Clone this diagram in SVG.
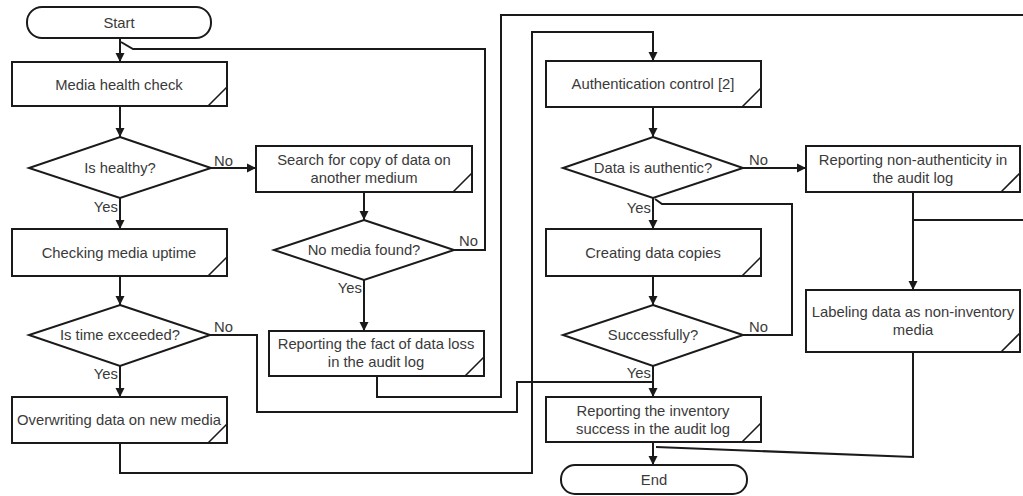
<svg xmlns="http://www.w3.org/2000/svg" width="1023" height="496" viewBox="0 0 1023 496">
<defs>
<marker id="arr" viewBox="0 0 10 10" refX="10" refY="5" markerWidth="9" markerHeight="10" markerUnits="userSpaceOnUse" orient="auto">
<path d="M0,0 L10,5 L0,10 Z" fill="#1a1a1a"/>
</marker>
<style>
.s{fill:#fff;stroke:#1a1a1a;stroke-width:2}
.f{fill:none;stroke:#1a1a1a;stroke-width:1.6}
.c{fill:none;stroke:#1a1a1a;stroke-width:2}
.a{marker-end:url(#arr)}
text{font-family:"Liberation Sans",Arial,sans-serif;font-size:14.8px;fill:#3a3a3a}
.m{text-anchor:middle}
.e{text-anchor:end}
</style>
</defs>
<rect width="1023" height="496" fill="#fff"/>
<g id="connectors">
<path class="c a" d="M120,38 V62"/>
<path class="c a" d="M120,106 V137"/>
<path class="c a" d="M211,168 H256"/>
<path class="c a" d="M120,198 V229"/>
<path class="c a" d="M120,276 V305"/>
<path class="c a" d="M120,366 V397"/>
<path class="c a" d="M364,192 V220"/>
<path class="c a" d="M364,280 V331"/>
<path class="c" d="M454,250 H485 V49 H133 L121,42"/>
<path class="c" d="M377,376 V397 H501 V15 H1023"/>
<path class="c" d="M210,335 H257 V412 H517 V382 H653"/>
<path class="c a" d="M120,443 V473 H532 V32 H653 V61"/>
<path class="c a" d="M653,107 V137"/>
<path class="c a" d="M743,168 H806"/>
<path class="c a" d="M653,198 V229"/>
<path class="c a" d="M653,276 V305"/>
<path class="c" d="M743,335 H792 V204 H662 L655,199"/>
<path class="c a" d="M653,366 V397"/>
<path class="c a" d="M913,192 V290"/>
<path class="c" d="M913,220 H1023"/>
<path class="c" d="M913,352 V457 L656,447"/>
<path class="c a" d="M653,442 V465"/>
</g>
<g id="start"><rect class="s" x="27" y="7" width="184" height="31" rx="15"/><text class="m" x="119" y="28">Start</text></g>
<g id="media-health"><rect class="s" x="12" y="62" width="215" height="44"/><path class="f" d="M208,106 L227,87"/><text class="m" x="119" y="90">Media health check</text></g>
<g id="is-healthy"><path class="s" d="M120,137 L211,168 L120,198 L29,168 Z"/><text class="m" x="120" y="173">Is healthy?</text></g>
<g id="search-copy"><rect class="s" x="256" y="146" width="216" height="46"/><path class="f" d="M453,192 L472,173"/><text class="m" x="364" y="165">Search for copy of data on</text><text class="m" x="364" y="183">another medium</text></g>
<g id="no-media"><path class="s" d="M364,220 L454,250 L364,280 L274,250 Z"/><text class="m" x="364" y="255">No media found?</text></g>
<g id="checking-uptime"><rect class="s" x="12" y="229" width="215" height="47"/><path class="f" d="M208,276 L227,257"/><text class="m" x="119" y="258">Checking media uptime</text></g>
<g id="is-time"><path class="s" d="M120,305 L210,335 L120,366 L29,335 Z"/><text class="m" x="120" y="340">Is time exceeded?</text></g>
<g id="report-loss"><rect class="s" x="269" y="331" width="215" height="45"/><path class="f" d="M465,376 L484,357"/><text class="m" x="376" y="349">Reporting the fact of data loss</text><text class="m" x="376" y="367">in the audit log</text></g>
<g id="overwriting"><rect class="s" x="12" y="397" width="215" height="46"/><path class="f" d="M208,443 L227,424"/><text class="m" x="119" y="425">Overwriting data on new media</text></g>
<g id="auth-control"><rect class="s" x="546" y="61" width="215" height="46"/><path class="f" d="M742,107 L761,88"/><text class="m" x="653" y="89">Authentication control [2]</text></g>
<g id="is-authentic"><path class="s" d="M653,137 L743,168 L653,198 L563,168 Z"/><text class="m" x="653" y="173">Data is authentic?</text></g>
<g id="report-nonauth"><rect class="s" x="806" y="146" width="214" height="46"/><path class="f" d="M1001,192 L1020,173"/><text class="m" x="913" y="165">Reporting non-authenticity in</text><text class="m" x="913" y="183">the audit log</text></g>
<g id="creating-copies"><rect class="s" x="546" y="229" width="215" height="47"/><path class="f" d="M742,276 L761,257"/><text class="m" x="653" y="258">Creating data copies</text></g>
<g id="labeling"><rect class="s" x="806" y="290" width="214" height="62"/><path class="f" d="M1001,352 L1020,333"/><text class="m" x="913" y="317">Labeling data as non-inventory</text><text class="m" x="913" y="335">media</text></g>
<g id="successfully"><path class="s" d="M653,305 L743,335 L653,366 L563,335 Z"/><text class="m" x="653" y="340">Successfully?</text></g>
<g id="report-success"><rect class="s" x="546" y="397" width="215" height="45"/><path class="f" d="M742,442 L761,423"/><text class="m" x="653" y="416">Reporting the inventory</text><text class="m" x="653" y="434">success in the audit log</text></g>
<g id="end"><rect class="s" x="561" y="465" width="186" height="29" rx="14"/><text class="m" x="654" y="485">End</text></g>
<g id="labels">
<text x="214" y="166">No</text>
<text class="e" x="118" y="212">Yes</text>
<text x="459" y="246">No</text>
<text class="e" x="362" y="293">Yes</text>
<text x="214" y="332">No</text>
<text class="e" x="118" y="379">Yes</text>
<text x="749" y="165">No</text>
<text class="e" x="651" y="213">Yes</text>
<text x="749" y="332">No</text>
<text class="e" x="651" y="378">Yes</text>
</g>
</svg>
